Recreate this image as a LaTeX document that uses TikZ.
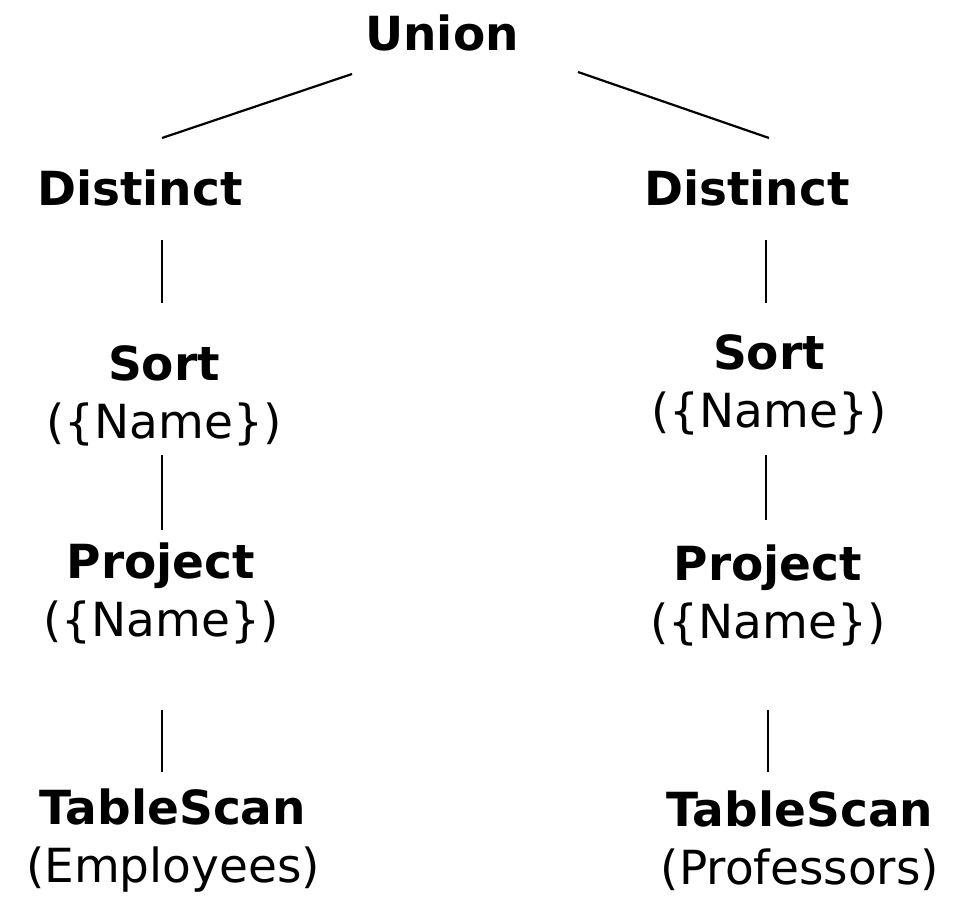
\documentclass[tikz,border=0pt]{standalone}
\usepackage{fontspec}
\setmainfont{DejaVu Sans}
\begin{document}
\begin{tikzpicture}[x=1pt,y=-1pt,
  op/.style={font=\fontsize{47}{58}\selectfont, align=center, inner sep=0pt},
  edge/.style={line width=2.2pt}]
\useasboundingbox (0,0) rectangle (975,902);
% operator tree
\node[op] (union) at (442,33) {\textbf{Union}};
\node[op] (dl) at (140,188) {\textbf{Distinct}};
\node[op] (dr) at (747,188) {\textbf{Distinct}};
\node[op] (sl) at (164,396) {\textbf{Sort}\\(\{Name\})};
\node[op] (sr) at (769,385) {\textbf{Sort}\\(\{Name\})};
\node[op] (pl) at (161,593) {\textbf{Project}\\(\{Name\})};
\node[op] (pr) at (768,595) {\textbf{Project}\\(\{Name\})};
\node[op] (tl) at (173,841) {\textbf{TableScan}\\(Employees)};
\node[op] (tr) at (800,841) {\textbf{TableScan}\\(Professors)};
% connector end points
\coordinate (ul) at (352,74);
\coordinate (ur) at (578,72);
\coordinate (dlt) at (162,138);
\coordinate (drt) at (769,138);
\coordinate (dlb) at (162,240);
\coordinate (slt) at (162,303);
\coordinate (drb) at (766,240);
\coordinate (srt) at (766,303);
\coordinate (slb) at (162,455);
\coordinate (plt) at (162,530);
\coordinate (srb) at (766,455);
\coordinate (prt) at (766,520);
\coordinate (plb) at (162,710);
\coordinate (tlt) at (162,772);
\coordinate (prb) at (768,710);
\coordinate (trt) at (768,772);
% connectors
\draw[edge] (ul) -- (dlt);
\draw[edge] (ur) -- (drt);
\draw[edge] (dlb) -- (slt);
\draw[edge] (drb) -- (srt);
\draw[edge] (slb) -- (plt);
\draw[edge] (srb) -- (prt);
\draw[edge] (plb) -- (tlt);
\draw[edge] (prb) -- (trt);
\end{tikzpicture}
\end{document}
